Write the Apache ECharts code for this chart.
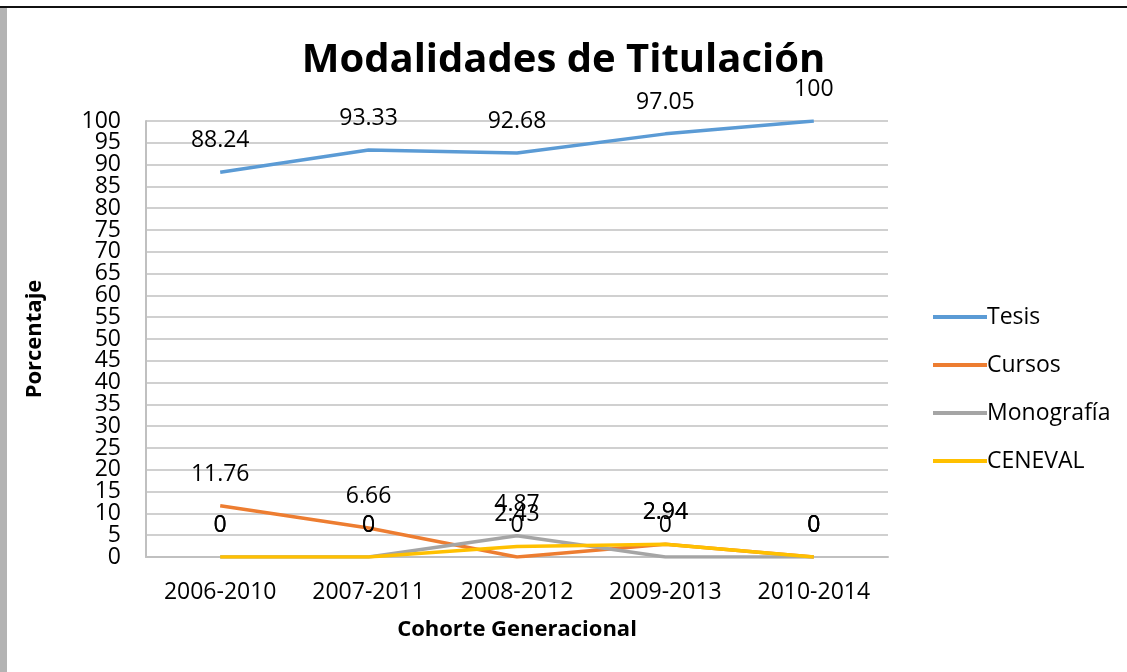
<!DOCTYPE html>
<html>
<head>
<meta charset="utf-8">
<script src="https://cdn.jsdelivr.net/npm/echarts@6/dist/echarts.min.js"></script>
<style>
  html, body { margin: 0; padding: 0; background: #fff; }
  .frame { position: absolute; left: 0; top: 0; width: 1127px; height: 672px; overflow: hidden; }
  .top-line { position: absolute; left: 0; top: 6px; width: 1127px; height: 2px; background: #111; }
  .left-bar { position: absolute; left: 0; top: 8px; width: 7px; height: 664px; background: #b3b3b3; }
  #chart { position: absolute; left: 0; top: 0; width: 1127px; height: 672px; }
</style>
</head>
<body>
<div class="frame">
  <div class="top-line"></div>
  <div class="left-bar"></div>
  <div id="chart"></div>
</div>
<script>
const cohortes = ['2006-2010', '2007-2011', '2008-2012', '2009-2013', '2010-2014']
const tesis = [88.24, 93.33, 92.68, 97.05, 100]
const cursos = [11.76, 6.66, 0, 2.94, 0]
const monografia = [0, 0, 4.87, 0, 0]
const ceneval = [0, 0, 2.43, 2.94, 0]

const seriesNames = ['Tesis', 'Cursos', 'Monografía', 'CENEVAL']
const colors = ['#5b9bd5', '#ed7d31', '#a5a5a5', '#ffc000']

const font = '"Open Sans", "Noto Sans", sans-serif'
const tickText = { fontSize: 23, color: '#000', fontFamily: font }

const makeSeries = (name, data, color) => ({
  name: name,
  type: 'line',
  data: data,
  symbol: 'circle',
  symbolSize: 0.1,
  showSymbol: true,
  lineStyle: { width: 3.5, color: color },
  itemStyle: { color: color },
  label: {
    show: true,
    position: 'top',
    distance: 20,
    color: '#000',
    fontSize: 23,
    fontFamily: font
  },
  emphasis: { disabled: true }
})

const chart = echarts.init(document.getElementById('chart'))

const option = {
  backgroundColor: 'transparent',
  animation: false,
  title: {
    text: 'Modalidades de Titulación',
    left: 'center',
    top: 36,
    textStyle: {
      fontSize: 40,
      fontWeight: 'bold',
      color: '#000',
      fontFamily: font
    }
  },
  legend: {
    orient: 'vertical',
    left: 928,
    top: 300,
    icon: 'rect',
    itemWidth: 54,
    itemHeight: 4,
    itemGap: 24,
    textStyle: { fontSize: 23, lineHeight: 24, color: '#000', fontFamily: font, padding: [0, 0, 0, -5] },
    data: seriesNames.map((n, i) => ({ name: n, itemStyle: { color: colors[i], opacity: 1 } }))
  },
  grid: {
    left: 146,
    right: 239,
    top: 121,
    bottom: 115,
    containLabel: false
  },
  xAxis: {
    type: 'category',
    data: cohortes,
    name: 'Cohorte Generacional',
    nameLocation: 'middle',
    nameGap: 62,
    nameTextStyle: { fontSize: 22, fontWeight: 'bold', color: '#000', fontFamily: font },
    axisLine: { lineStyle: { color: '#c0c0c0', width: 2 } },
    axisTick: { show: false },
    axisLabel: { fontSize: 23, color: '#000', margin: 24, fontFamily: font }
  },
  yAxis: [
    {
      type: 'value',
      min: 0,
      max: 100,
      interval: 5,
      name: 'Porcentaje',
      nameLocation: 'middle',
      nameGap: 100,
      nameTextStyle: { fontSize: 22, fontWeight: 'bold', color: '#000', fontFamily: font },
      axisLine: { show: true, lineStyle: { color: '#c0c0c0', width: 2 } },
      axisTick: { show: false },
      splitLine: { lineStyle: { color: '#c0c0c0', width: 1.5 } },
      // 0 and 100 come from the second axis, so the crowded neighbours stay visible
      axisLabel: Object.assign({ margin: 25, showMinLabel: false, showMaxLabel: false, hideOverlap: false }, tickText)
    },
    {
      type: 'value',
      position: 'left',
      offset: 0,
      min: 0,
      max: 100,
      interval: 100,
      axisLine: { show: false },
      axisTick: { show: false },
      splitLine: { show: false },
      axisLabel: Object.assign({ margin: 25 }, tickText)
    }
  ],
  series: seriesNames.map((n, i) => makeSeries(n, [tesis, cursos, monografia, ceneval][i], colors[i]))
}

chart.setOption(option)
</script>
</body>
</html>
